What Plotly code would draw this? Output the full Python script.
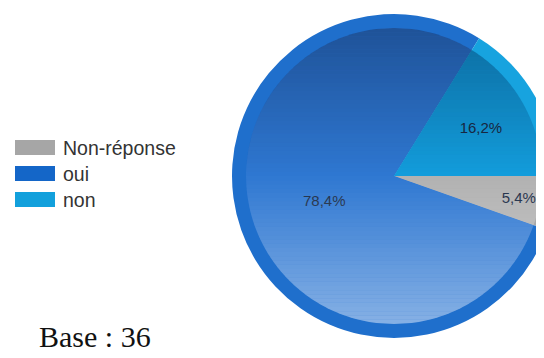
import math
import plotly.graph_objects as go

categories = ["Non-réponse", "oui", "non"]
values = [5.4, 78.4, 16.2]
base_label = "Base : 36"

ring_colors = ["#a8a8a8", "#1f6fcc", "#17a3df"]
inner_colors = ["#b2b2b2", "#2f78d2", "#139ddc"]
legend_colors = ["#a6a6a6", "#1466c8", "#12a0dc"]

W, H = 600, 400          # page is clipped to the window; pie overflows to the right
cx, cy, R, r_in = 386, 168, 162, 148

def dom(rad):
    return dict(x=[(cx - rad) / W, (cx + rad) / W],
                y=[1 - (cy + rad) / H, 1 - (cy - rad) / H])

def px(x):
    return x / W

def py(y):
    return 1 - y / H

fig = go.Figure()
fig.add_trace(go.Pie(
    labels=categories, values=values, sort=False, direction="clockwise",
    rotation=90, marker=dict(colors=ring_colors, line=dict(width=0)),
    textinfo="none", hoverinfo="skip", showlegend=False, domain=dom(R),
))
fig.add_trace(go.Pie(
    labels=categories, values=values, sort=False, direction="clockwise",
    rotation=90, marker=dict(colors=inner_colors, line=dict(width=0)),
    texttemplate="%{percent:.1%}", textposition="inside",
    insidetextorientation="horizontal",
    textfont=dict(family="Liberation Sans", size=15, color="#1b2b45"),
    showlegend=False, domain=dom(r_in),
))

shapes = []
# vertical shading (dark at top, light at bottom) over the inner disc
N = 70
for i in range(N):
    ya = cy - r_in + 2 * r_in * i / N
    yb = cy - r_in + 2 * r_in * (i + 1) / N
    ym = (ya + yb) / 2
    t = (ym - cy) / r_in
    if t < 0:
        col = "rgba(0,10,40,%.3f)" % (0.34 * (-t))
    else:
        col = "rgba(255,255,255,%.3f)" % (0.42 * t)
    ys = [ya + (yb - ya) * k / 4 for k in range(5)]
    right = [(cx + math.sqrt(max(r_in ** 2 - (y - cy) ** 2, 0)), y) for y in ys]
    left = [(cx - math.sqrt(max(r_in ** 2 - (y - cy) ** 2, 0)), y) for y in reversed(ys)]
    pts = right + left
    path = "M " + " L ".join("%.5f,%.5f" % (px(x), py(y)) for x, y in pts) + " Z"
    shapes.append(dict(type="path", xref="paper", yref="paper", path=path,
                       fillcolor=col, line=dict(width=0), layer="above"))

annotations = []
for i, (name, col) in enumerate(zip(categories, legend_colors)):
    yc = 139.5 + 26 * i
    shapes.append(dict(type="rect", xref="paper", yref="paper",
                       x0=px(7), x1=px(47), y0=py(yc + 7.5), y1=py(yc - 7.5),
                       fillcolor=col, line=dict(width=0)))
    annotations.append(dict(text=name, xref="paper", yref="paper",
                            x=px(53), y=py(yc), xanchor="left", yanchor="middle",
                            showarrow=False,
                            font=dict(family="Liberation Sans", size=19.5, color="#333333")))
annotations.append(dict(text=base_label, xref="paper", yref="paper",
                        x=px(29), y=py(328), xanchor="left", yanchor="middle",
                        showarrow=False,
                        font=dict(family="Liberation Serif", size=30, color="#111111")))

fig.update_layout(width=W, height=H, margin=dict(l=0, r=0, t=0, b=0),
                  paper_bgcolor="white", plot_bgcolor="white",
                  separators=", ", shapes=shapes, annotations=annotations)
fig.write_html("out.html")
